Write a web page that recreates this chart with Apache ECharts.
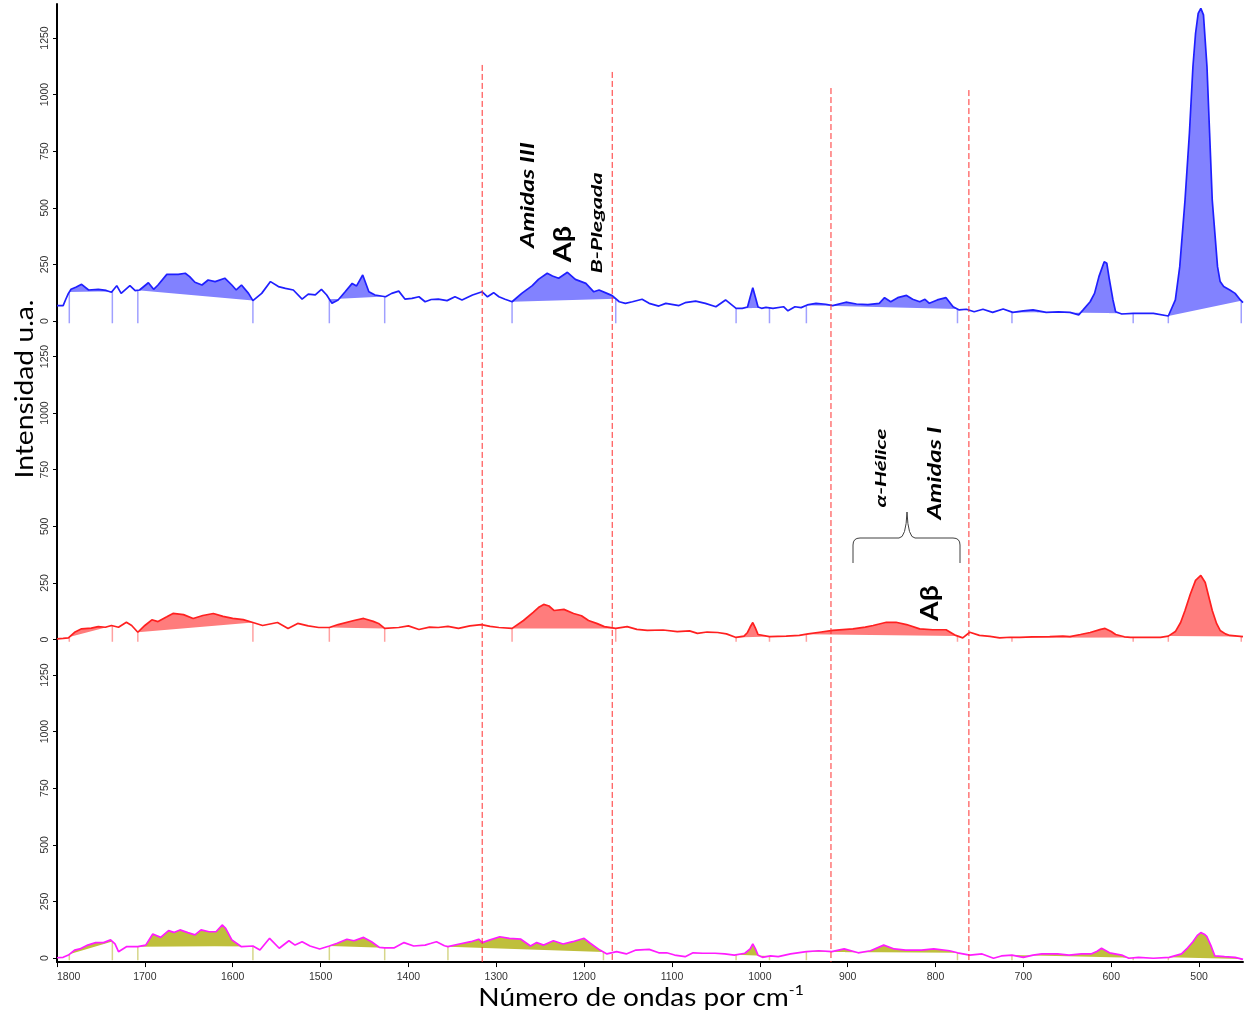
<!DOCTYPE html>
<html><head><meta charset="utf-8">
<script src="https://cdn.jsdelivr.net/npm/echarts@6/dist/echarts.min.js"></script>
<style>html,body{margin:0;padding:0;background:#fff}#c{width:1244px;height:1014px}</style>
</head><body><div id="c"></div>
<script>
// ---------- data ----------
const wnTicks = [1800,1700,1600,1500,1400,1300,1200,1100,1000,900,800,700,600,500];
const intensityTicks = [0,250,500,750,1000,1250];

// [wavenumber cm-1, intensity a.u.]
const blueSpectrum = [[1800,68],[1793,68],[1790,96],[1787,122],[1784,140],[1778,150],[1772,162],[1764,137],[1753,140],[1744,135],[1738,127],[1732,156],[1727,122],[1717,156],[1711,134],[1706,137],[1696,169],[1690,140],[1685,159],[1675,206],[1670,206],[1662,206],[1654,211],[1649,196],[1643,171],[1635,159],[1628,181],[1620,174],[1609,189],[1601,159],[1596,137],[1590,159],[1582,122],[1577,90],[1567,122],[1557,174],[1548,152],[1540,144],[1531,137],[1521,97],[1514,119],[1506,115],[1499,140],[1493,115],[1487,78],[1480,93],[1472,129],[1464,166],[1459,155],[1452,203],[1445,129],[1438,115],[1426,107],[1419,122],[1411,132],[1404,97],[1396,100],[1388,107],[1381,85],[1374,95],[1366,97],[1356,90],[1347,107],[1339,93],[1327,115],[1316,129],[1310,107],[1303,125],[1297,107],[1290,96],[1282,85],[1271,122],[1259,156],[1252,184],[1242,211],[1236,199],[1229,189],[1219,215],[1210,184],[1198,166],[1189,129],[1183,137],[1174,122],[1168,112],[1160,85],[1153,78],[1145,85],[1134,96],[1126,78],[1115,66],[1107,78],[1092,68],[1085,81],[1073,88],[1062,78],[1050,63],[1039,93],[1027,56],[1020,56],[1014,62],[1011,105],[1008,147],[1005,105],[1002,62],[998,56],[993,60],[985,56],[973,63],[968,45],[960,63],[953,59],[946,71],[936,78],[925,74],[917,68],[902,83],[890,75],[877,72],[864,78],[858,103],[851,85],[843,103],[833,113],[826,96],[818,85],[812,96],[807,78],[798,93],[788,103],[780,63],[773,49],[765,52],[756,41],[746,52],[735,38],[723,53],[712,38],[700,45],[689,49],[674,38],[660,40],[647,38],[637,27],[632,49],[624,85],[619,122],[614,196],[608,262],[605,255],[602,181],[598,93],[595,41],[588,31],[575,34],[552,34],[535,22],[527,93],[522,240],[516,534],[511,829],[507,1123],[504,1271],[501,1359],[498,1381],[495,1352],[491,1123],[488,829],[485,534],[479,240],[476,174],[472,152],[465,137],[459,122],[453,93],[450,81]];

const redSpectrum = [[1800,3],[1793,5],[1787,7],[1780,32],[1772,47],[1761,50],[1753,57],[1745,54],[1738,62],[1730,54],[1721,76],[1715,62],[1708,32],[1700,62],[1692,87],[1685,79],[1675,100],[1668,115],[1656,110],[1645,93],[1634,106],[1622,115],[1611,102],[1600,93],[1588,88],[1577,75],[1566,62],[1549,75],[1537,49],[1526,71],[1514,60],[1502,53],[1490,53],[1480,66],[1462,84],[1451,93],[1440,80],[1434,71],[1427,49],[1411,53],[1400,60],[1388,44],[1376,55],[1366,53],[1355,58],[1343,49],[1330,60],[1317,66],[1307,58],[1297,53],[1282,49],[1269,84],[1258,120],[1252,141],[1246,155],[1240,148],[1234,128],[1223,133],[1212,115],[1203,105],[1195,84],[1185,70],[1177,57],[1164,49],[1151,57],[1140,45],[1128,40],[1110,42],[1094,35],[1080,38],[1071,27],[1060,33],[1048,31],[1038,25],[1027,9],[1018,15],[1014,31],[1011,55],[1008,75],[1005,50],[1002,22],[989,13],[970,15],[955,18],[945,25],[932,32],[917,40],[894,47],[880,55],[871,62],[856,76],[845,76],[833,66],[818,47],[803,43],[788,43],[777,18],[769,7],[761,32],[750,18],[738,14],[727,7],[715,10],[704,9],[690,12],[670,13],[655,15],[647,13],[635,22],[624,31],[612,45],[607,49],[600,35],[595,22],[585,12],[578,9],[560,10],[544,9],[535,15],[527,35],[521,75],[516,128],[510,200],[504,261],[498,283],[493,252],[489,190],[485,128],[480,70],[476,40],[470,25],[465,18],[450,13]];

const magentaSpectrum = [[1800,1],[1793,3],[1787,13],[1780,35],[1774,40],[1765,57],[1756,68],[1747,68],[1739,80],[1734,62],[1730,28],[1721,50],[1708,50],[1699,57],[1691,106],[1682,91],[1673,121],[1667,113],[1660,124],[1651,112],[1643,102],[1636,124],[1627,116],[1619,116],[1612,146],[1608,131],[1601,80],[1590,50],[1577,53],[1569,35],[1558,87],[1547,43],[1536,76],[1529,57],[1521,72],[1512,53],[1501,40],[1490,53],[1481,65],[1470,83],[1462,76],[1451,91],[1442,72],[1433,47],[1427,45],[1416,45],[1405,68],[1394,53],[1381,57],[1374,65],[1368,72],[1359,54],[1355,50],[1342,62],[1329,72],[1320,83],[1316,68],[1307,80],[1296,94],[1285,87],[1272,83],[1261,53],[1254,68],[1246,57],[1235,76],[1224,62],[1213,72],[1200,87],[1193,65],[1182,35],[1174,18],[1163,28],[1152,18],[1141,35],[1126,38],[1115,23],[1106,23],[1097,13],[1085,6],[1076,23],[1065,21],[1051,21],[1040,18],[1029,13],[1017,21],[1011,40],[1008,62],[1005,40],[1002,12],[997,3],[988,9],[979,6],[965,18],[947,28],[933,32],[918,28],[904,40],[888,23],[874,32],[859,57],[847,40],[834,35],[816,35],[802,40],[784,32],[775,23],[761,13],[747,18],[734,-1],[725,9],[713,13],[700,3],[689,13],[679,18],[661,18],[648,13],[634,18],[623,18],[616,30],[611,43],[606,32],[602,23],[588,13],[580,-1],[569,3],[552,-1],[534,3],[520,18],[513,45],[507,72],[502,100],[498,112],[494,105],[491,94],[486,50],[482,9],[471,6],[459,3],[450,-6]];

// integrated bands [start, end] in cm-1
const blueBands = [[1786,1737],[1708,1577],[1490,1427],[1282,1164],[1027,989],[947,775],[713,575],[535,452]];
const redBands = [[1786,1737],[1708,1577],[1490,1427],[1282,1164],[1027,989],[947,775],[713,575],[535,452]];
const magentaBands = [[1786,1737],[1708,1577],[1490,1427],[1355,1178],[1027,989],[947,775],[713,575],[535,452]];

// dashed guide lines: [wavenumber, top (in top-panel intensity units)]
const guideLines = [[1316,1131],[1168,1100],[919,1029],[762,1020]];

// ---------- layout ----------
const PX = 0.2264;            // pixels per intensity unit
const Y_MIN = -18, Y_MAX = 1400;
const zeroY = [321, 639.5, 958];
const panelTop = zeroY.map(z => z - Y_MAX * PX);
const panelH = (Y_MAX - Y_MIN) * PX;
const LEFT = 57, RIGHT = 1;
const overlayBottom = zeroY[2] - Y_MIN * PX;
const overlayMin = Y_MAX - (overlayBottom - panelTop[0]) / PX;

function interp(spec, w) {
  for (let i = 0; i < spec.length - 1; i++) {
    const [w0, v0] = spec[i], [w1, v1] = spec[i + 1];
    if (w <= w0 && w >= w1) { const t = (w0 - w) / ((w0 - w1) || 1); return v0 + (v1 - v0) * t; }
  }
  return spec[spec.length - 1][1];
}

const panels = [
  {spec: blueSpectrum, bands: blueBands, line: '#1f1fff', fill: '#8282ff', marker: '#a0a0ff'},
  {spec: redSpectrum, bands: redBands, line: '#ff2020', fill: '#ff7c7c', marker: '#ffa0a0'},
  {spec: magentaSpectrum, bands: magentaBands, line: '#ff1cff', fill: '#bfbf3c', marker: '#d6d68a'}
];

const grid = panels.map((p, i) => ({left: LEFT, right: RIGHT, top: panelTop[i], height: panelH}));
grid.push({left: LEFT, right: RIGHT, top: panelTop[0], height: overlayBottom - panelTop[0]});

const plain = v => String(v);
const xAxis = grid.map((g, i) => ({
  type: 'value', gridIndex: i, min: 450, max: 1800, inverse: true,
  show: i === 2,
  axisLine: {show: true, onZero: false, lineStyle: {color: '#000', width: 2}},
  axisTick: {show: true, length: 5, customValues: wnTicks, lineStyle: {color: '#000', width: 1}},
  axisLabel: {show: true, customValues: wnTicks, formatter: plain, margin: 10, fontSize: 10.5, color: '#333', fontFamily: 'Liberation Sans', alignMinLabel: 'left'},
  splitLine: {show: false}
}));

const yAxis = grid.map((g, i) => i < 3 ? ({
  type: 'value', gridIndex: i, min: Y_MIN, max: Y_MAX,
  axisLine: {show: true, lineStyle: {color: '#000', width: 2}},
  axisTick: {show: true, length: 4, customValues: intensityTicks, lineStyle: {color: '#000'}},
  axisLabel: {show: true, customValues: intensityTicks, formatter: plain, rotate: 90, margin: 6, fontSize: 10.5, color: '#333', fontFamily: 'Liberation Sans'},
  splitLine: {show: false}
}) : ({type: 'value', gridIndex: i, min: overlayMin, max: Y_MAX, show: false, splitLine: {show: false}}));

const series = [];
panels.forEach((p, i) => {
  series.push({
    type: 'custom', xAxisIndex: i, yAxisIndex: i, z: 2, silent: true,
    data: p.bands, encode: {x: [0, 1]},
    renderItem: (params, api) => {
      const a = api.value(0), b = api.value(1);
      const hi = Math.max(a, b), lo = Math.min(a, b);
      const pts = [api.coord([hi, interp(p.spec, hi)])];
      p.spec.forEach(([w, v]) => { if (w < hi && w > lo) pts.push(api.coord([w, v])); });
      pts.push(api.coord([lo, interp(p.spec, lo)]));
      return {type: 'polygon', shape: {points: pts}, style: {fill: p.fill}};
    }
  });
  series.push({
    type: 'custom', xAxisIndex: i, yAxisIndex: i, z: 3, silent: true,
    data: p.bands.flat().map(w => [w]), encode: {x: 0},
    renderItem: (params, api) => {
      const w = api.value(0);
      const p1 = api.coord([w, interp(p.spec, w)]), p2 = api.coord([w, -10]);
      return {type: 'line', shape: {x1: p1[0], y1: p1[1], x2: p2[0], y2: p2[1]}, style: {stroke: p.marker, lineWidth: 1.5}};
    }
  });
  series.push({
    type: 'line', xAxisIndex: i, yAxisIndex: i, z: 4, silent: true,
    data: p.spec, showSymbol: false, symbol: 'none',
    lineStyle: {color: p.line, width: 1.7}
  });
});
series.push({
  type: 'custom', xAxisIndex: 3, yAxisIndex: 3, z: 5, silent: true,
  data: guideLines,
  renderItem: (params, api) => {
    const w = api.value(0);
    const p1 = api.coord([w, api.value(1)]), p2 = api.coord([w, overlayMin]);
    return {type: 'line', shape: {x1: p1[0], y1: p1[1], x2: p2[0], y2: p2[1]}, style: {stroke: '#ff3030', lineWidth: 1, lineDash: [6, 3]}};
  }
});

const txt = (x, y, text, font, stretch) => ({type: 'text', x, y, rotation: Math.PI / 2, scaleX: stretch || 1, style: {text, font, fill: '#000', textAlign: 'center', textVerticalAlign: 'middle'}});
const braceStyle = {fill: null, stroke: '#404040', lineWidth: 1};
const graphic = [
  txt(25, 389, 'Intensidad u.a.', '25px Lato, "Noto Sans"', 1.13),
  {type: 'text', x: 641, y: 998, scaleX: 1.12, style: {text: '{a|Número de ondas por cm}{b|-1}', rich: {a: {fontSize: 25, fontFamily: 'Lato', lineHeight: 30, fill: '#000'}, b: {fontSize: 14, fontFamily: 'Lato', lineHeight: 14, verticalAlign: 'top', fill: '#000'}}, textAlign: 'center', textVerticalAlign: 'middle'}},
  txt(528, 195, 'Amidas III', 'italic bold 19px Lato, "Noto Sans"', 1.32),
  txt(563, 244, 'Aβ', 'bold 24px Lato, "Noto Sans"', 1.2),
  txt(597, 223, 'B-Plegada', 'italic bold 16px Lato, "Noto Sans"', 1.46),
  txt(881, 468, 'α-Hélice', 'italic bold 15px Lato, "Noto Sans"', 1.5),
  txt(935, 473, 'Amidas I', 'italic bold 19px Lato, "Noto Sans"', 1.34),
  txt(930, 603, 'Aβ', 'bold 24px Lato, "Noto Sans"', 1.18),
  {type: 'polyline', shape: {points: [[853, 563], [853, 545]]}, style: braceStyle},
  {type: 'bezierCurve', shape: {x1: 853, y1: 545, cpx1: 853, cpy1: 538, x2: 860, y2: 538}, style: braceStyle},
  {type: 'polyline', shape: {points: [[860, 538], [899, 538]]}, style: braceStyle},
  {type: 'bezierCurve', shape: {x1: 899, y1: 538, cpx1: 906, cpy1: 538, x2: 907, y2: 512}, style: braceStyle},
  {type: 'bezierCurve', shape: {x1: 907, y1: 512, cpx1: 908, cpy1: 538, x2: 915, y2: 538}, style: braceStyle},
  {type: 'polyline', shape: {points: [[915, 538], [953, 538]]}, style: braceStyle},
  {type: 'bezierCurve', shape: {x1: 953, y1: 538, cpx1: 960, cpy1: 538, x2: 960, y2: 545}, style: braceStyle},
  {type: 'polyline', shape: {points: [[960, 545], [960, 563]]}, style: braceStyle}
];

const chart = echarts.init(document.getElementById('c'));
chart.setOption({animation: false, backgroundColor: '#fff', grid, xAxis, yAxis, series, graphic});
</script>
</body></html>
